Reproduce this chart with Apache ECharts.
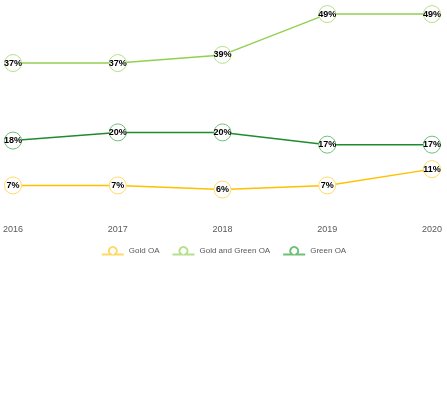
<!DOCTYPE html>
<html><head><meta charset="utf-8">
<script src="https://cdn.jsdelivr.net/npm/echarts@6/dist/echarts.min.js"></script>
<style>html,body{margin:0;background:#fff}#c{width:447px;height:420px}</style>
</head><body><div id="c"></div>
<script>
var years = ['2016', '2017', '2018', '2019', '2020'];
var goldOA = [7, 7, 6, 7, 11];
var goldGreenOA = [37, 37, 39, 49, 49];
var greenOA = [18, 20, 20, 17, 17];

function line(name, data, color, border) {
  return {
    name: name, type: 'line', data: data,
    symbol: 'circle', symbolSize: 17,
    lineStyle: { color: color, width: 1.5 },
    itemStyle: { color: '#fff', borderColor: border, borderWidth: 1 },
    label: { show: true, position: 'inside', formatter: '{c}%', color: '#000',
      fontWeight: 'bold', fontSize: 9, fontFamily: 'Liberation Sans' }
  };
}
var chart = echarts.init(document.getElementById('c'));
chart.setOption({
  animation: false,
  grid: { left: 12, right: 15, top: 10, bottom: 206 },
  xAxis: { type: 'category', data: years, boundaryGap: false,
    axisLine: { show: false }, axisTick: { show: false },
    axisLabel: { color: '#595959', fontSize: 9, margin: 11, fontFamily: 'Liberation Sans' } },
  yAxis: { type: 'value', min: 0, max: 50, show: false, splitLine: { show: false } },
  legend: { top: 241, left: 'center', itemWidth: 22, itemHeight: 8, itemGap: 12,
    icon: 'path://M0,5L9,5A4,4 0 1 1 13,5L22,5',
    textStyle: { color: '#595959', fontSize: 8, fontFamily: 'Liberation Sans' },
    data: ['Gold OA', 'Gold and Green OA', 'Green OA'] },
  series: [
    line('Gold OA', goldOA, '#ffc000', '#ffd966'),
    line('Gold and Green OA', goldGreenOA, '#92d050', '#b5e08a'),
    line('Green OA', greenOA, '#1e8c2e', '#6fbf78')
  ]
});
</script></body></html>
